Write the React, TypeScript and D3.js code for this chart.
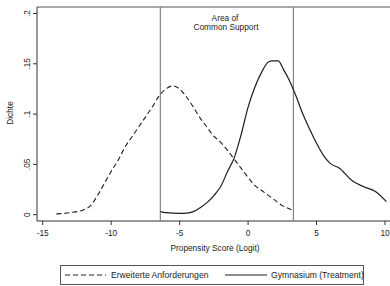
import React from "react";
import * as d3 from "d3";

const xTicks = [-15, -10, -5, 0, 5, 10];
const yTicks = [0, 0.05, 0.1, 0.15, 0.2];
const yTickLabels = ["0", ".05", ".1", ".15", ".2"];
const supportBounds = [-6.41, 3.31];

const dashX = [-14, -13, -12, -11.5, -11, -10.5, -10, -9.5, -9, -8.5, -8, -7.5, -7, -6.5, -6, -5.5, -5, -4.5, -4, -3.5, -3, -2.5, -2, -1.5, -1, -0.5, 0, 0.5, 1, 1.5, 2, 2.5, 3, 3.3];
const dashY = [0.0008, 0.002, 0.005, 0.009, 0.019, 0.031, 0.043, 0.054, 0.067, 0.077, 0.087, 0.097, 0.107, 0.118, 0.125, 0.128, 0.125, 0.117, 0.107, 0.096, 0.087, 0.078, 0.072, 0.064, 0.055, 0.046, 0.037, 0.029, 0.024, 0.019, 0.014, 0.009, 0.006, 0.004];

const solidX = [-6.4, -6, -5.5, -5, -4.5, -4, -3.5, -3, -2.5, -2, -1.5, -1, -0.5, 0, 0.5, 1, 1.5, 1.8, 2.2, 2.6, 3, 3.5, 4, 4.5, 5, 5.5, 6, 6.7, 7.5, 8.4, 9.3, 10.1];
const solidY = [0.003, 0.002, 0.0015, 0.0014, 0.0016, 0.003, 0.007, 0.012, 0.019, 0.028, 0.043, 0.057, 0.080, 0.107, 0.127, 0.142, 0.152, 0.153, 0.153, 0.144, 0.134, 0.118, 0.100, 0.085, 0.071, 0.059, 0.051, 0.046, 0.035, 0.028, 0.023, 0.013];

const legendLabels = ["Erweiterte Anforderungen", "Gymnasium (Treatment)"];

export default function App() {
  const W = 390, H = 286;
  const x = d3.scaleLinear().domain([-15, 10]).range([42.7, 385]);
  const y = d3.scaleLinear().domain([0, 0.2]).range([214.7, 13.5]);
  const left = 37, top = 7, bottom = 221, right = 400;
  const font = "'Liberation Sans', Arial, sans-serif";
  const line = d3.line<[number, number]>().x(d => x(d[0])).y(d => y(d[1])).curve(d3.curveMonotoneX);
  const dashPts = dashX.map((v, i) => [v, dashY[i]] as [number, number]);
  const solidPts = solidX.map((v, i) => [v, solidY[i]] as [number, number]);
  const ink = "#1e1e1e";
  return (
    <svg width={W} height={H} style={{ position: "absolute", left: 0, top: 0, background: "#fff" }} fontFamily={font}>
      <rect x={0} y={0} width={W} height={H} fill="#fff" />
      <line x1={left} x2={right} y1={top} y2={top} stroke="#555" strokeWidth={1} />
      <line x1={left} x2={left} y1={top} y2={bottom} stroke="#333" strokeWidth={1} />
      <line x1={left} x2={right} y1={bottom} y2={bottom} stroke="#333" strokeWidth={1} />
      {supportBounds.map((b, i) => (
        <line key={i} x1={x(b)} x2={x(b)} y1={top} y2={bottom} stroke="#7a7a7a" strokeWidth={1.1} />
      ))}
      <text x={225} y={21} fontSize={8.3} textAnchor="middle" fill="#222">Area of</text>
      <text x={226} y={30} fontSize={8.3} textAnchor="middle" fill="#222">Common Support</text>
      {yTicks.map((t, i) => (
        <g key={i}>
          <line x1={left - 4} x2={left} y1={y(t)} y2={y(t)} stroke="#333" />
          <text transform={`translate(${30},${y(t)}) rotate(-90)`} fontSize={8.3} textAnchor="middle" fill="#222">{yTickLabels[i]}</text>
        </g>
      ))}
      <text transform={`translate(${13},${113}) rotate(-90)`} fontSize={8.3} textAnchor="middle" fill="#222">Dichte</text>
      {xTicks.map((t, i) => (
        <g key={i}>
          <line x1={x(t)} x2={x(t)} y1={bottom} y2={bottom + 4} stroke="#333" />
          <text x={x(t)} y={236} fontSize={8.3} textAnchor="middle" fill="#222">{t}</text>
        </g>
      ))}
      <text x={215} y={251} fontSize={8.3} textAnchor="middle" fill="#222">Propensity Score (Logit)</text>
      <path d={line(dashPts) || ""} fill="none" stroke={ink} strokeWidth={1.1} strokeDasharray="5,3" />
      <path d={line(solidPts) || ""} fill="none" stroke={ink} strokeWidth={1.2} />
      <rect x={60.5} y={265.5} width={303} height={19} fill="#fff" stroke="#555" />
      <line x1={65} x2={106} y1={275} y2={275} stroke={ink} strokeWidth={1.1} strokeDasharray="5,3" />
      <text x={111} y={278} fontSize={8.6} fill="#222">{legendLabels[0]}</text>
      <line x1={225} x2={267} y1={275} y2={275} stroke={ink} strokeWidth={1.2} />
      <text x={271} y={278} fontSize={8.6} fill="#222">{legendLabels[1]}</text>
    </svg>
  );
}
